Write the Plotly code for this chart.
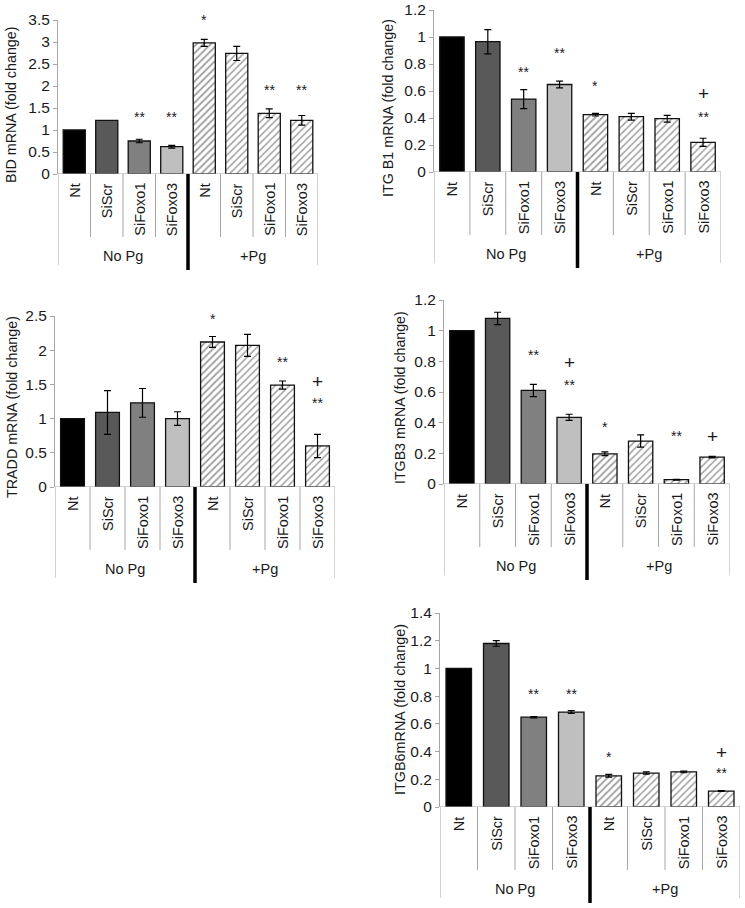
import plotly.graph_objects as go

# ---------------- data ----------------
categories = ["Nt", "SiScr", "SiFoxo1", "SiFoxo3", "Nt", "SiScr", "SiFoxo1", "SiFoxo3"]
groups = ["No Pg", "+Pg"]

bid_values = [1.0, 1.22, 0.75, 0.62, 2.98, 2.74, 1.38, 1.22]
bid_errors = [None, None, 0.04, 0.03, 0.08, 0.16, 0.10, 0.11]
bid_marks = ["", "", "**", "**", "*", "", "**", "**"]
bid_plus = ["", "", "", "", "", "", "", ""]

itgb1_values = [1.0, 0.965, 0.54, 0.648, 0.425, 0.41, 0.395, 0.22]
itgb1_errors = [None, 0.09, 0.07, 0.025, 0.01, 0.025, 0.025, 0.03]
itgb1_marks = ["", "", "**", "**", "*", "", "", "**"]
itgb1_plus = ["", "", "", "", "", "", "", "+"]

tradd_values = [1.0, 1.09, 1.23, 1.0, 2.12, 2.07, 1.49, 0.6]
tradd_errors = [None, 0.32, 0.21, 0.10, 0.08, 0.16, 0.06, 0.17]
tradd_marks = ["", "", "", "", "*", "", "**", "**"]
tradd_plus = ["", "", "", "", "", "", "", "+"]

itgb3_values = [1.0, 1.08, 0.61, 0.435, 0.197, 0.28, 0.028, 0.175]
itgb3_errors = [None, 0.04, 0.04, 0.02, 0.012, 0.04, 0.003, 0.005]
itgb3_marks = ["", "", "**", "**", "*", "", "**", ""]
itgb3_plus = ["", "", "", "+", "", "", "", "+"]

itgb6_values = [1.0, 1.18, 0.648, 0.685, 0.225, 0.245, 0.253, 0.115]
itgb6_errors = [None, 0.02, 0.005, 0.01, 0.01, 0.008, 0.006, 0.003]
itgb6_marks = ["", "", "**", "**", "*", "", "", "**"]
itgb6_plus = ["", "", "", "", "", "", "", "+"]

# heights (data units) of the significance marks
bid_mark_y = [0, 0, 1.30, 1.30, 3.50, 0, 1.91, 1.91]
bid_plus_y = [0] * 8
itgb1_mark_y = [0, 0, 0.74, 0.88, 0.64, 0, 0, 0.41]
itgb1_plus_y = [0, 0, 0, 0, 0, 0, 0, 0.58]
tradd_mark_y = [0, 0, 0, 0, 2.45, 0, 1.83, 1.23]
tradd_plus_y = [0, 0, 0, 0, 0, 0, 0, 1.54]
itgb3_mark_y = [0, 0, 0.84, 0.645, 0.37, 0, 0.31, 0]
itgb3_plus_y = [0, 0, 0, 0.79, 0, 0, 0, 0.31]
itgb6_mark_y = [0, 0, 0.815, 0.815, 0.36, 0, 0, 0.245]
itgb6_plus_y = [0, 0, 0, 0, 0, 0, 0, 0.39]

# ---------------- styles ----------------
W, H = 745, 908
FONT = "Liberation Sans, Arial, sans-serif"
TXT = "#1a1a1a"
GRID = "#a6a6a6"

solid_colors = ["#000000", "#595959", "#808080", "#bfbfbf", "white", "white", "white", "white"]
hatch_shapes = ["", "", "", "", "/", "/", "/", "/"]
hatch_fg = ["#000000", "#000000", "#000000", "#000000", "#111111", "#555555", "#808080", "#b0b0b0"]
hatch_solidity = [0.3, 0.3, 0.3, 0.3, 0.38, 0.3, 0.3, 0.3]

# box = (left, right, top, bottom) of plot area in px; tpos = axis-title centre in px
panels = [
    dict(title="BID mRNA (fold change)", values=bid_values, errors=bid_errors,
         marks=bid_marks, mark_y=bid_mark_y, plus=bid_plus, plus_y=bid_plus_y,
         ymax=3.5, dtick=0.5, box=(58, 318, 20, 174), tpos=(11, 105), tfs=14.3),
    dict(title="ITG B1 mRNA (fold change)", values=itgb1_values, errors=itgb1_errors,
         marks=itgb1_marks, mark_y=itgb1_mark_y, plus=itgb1_plus, plus_y=itgb1_plus_y,
         ymax=1.2, dtick=0.2, box=(434, 721, 10, 172), tpos=(388, 108), tfs=14.3),
    dict(title="TRADD mRNA (fold change)", values=tradd_values, errors=tradd_errors,
         marks=tradd_marks, mark_y=tradd_mark_y, plus=tradd_plus, plus_y=tradd_plus_y,
         ymax=2.5, dtick=0.5, box=(55, 335, 316, 487), tpos=(12, 407), tfs=14.3),
    dict(title="ITGB3 mRNA (fold change)", values=itgb3_values, errors=itgb3_errors,
         marks=itgb3_marks, mark_y=itgb3_mark_y, plus=itgb3_plus, plus_y=itgb3_plus_y,
         ymax=1.2, dtick=0.2, box=(444, 730, 300, 484), tpos=(400, 398), tfs=14.2),
    dict(title="ITGB6mRNA (fold change)", values=itgb6_values, errors=itgb6_errors,
         marks=itgb6_marks, mark_y=itgb6_mark_y, plus=itgb6_plus, plus_y=itgb6_plus_y,
         ymax=1.4, dtick=0.2, box=(440, 740, 613, 807), tpos=(400, 710), tfs=14.4),
]

fig = go.Figure()
annotations = []
shapes = []
layout_axes = {}

positions = list(range(len(categories)))

for k, p in enumerate(panels, start=1):
    xa = "x" if k == 1 else f"x{k}"
    ya = "y" if k == 1 else f"y{k}"
    xkey = "xaxis" if k == 1 else f"xaxis{k}"
    ykey = "yaxis" if k == 1 else f"yaxis{k}"
    l, r, t, b = p["box"]
    ph = b - t

    errs = [e if e is not None else 0 for e in p["errors"]]
    err_vis = [e is not None for e in p["errors"]]
    fig.add_trace(go.Bar(
        x=positions, y=p["values"], xaxis=xa, yaxis=ya, width=0.68,
        marker=dict(color=solid_colors,
                    line=dict(color="#111111", width=1.3),
                    pattern=dict(shape=hatch_shapes, fgcolor=hatch_fg,
                                 bgcolor="white", size=5, solidity=hatch_solidity)),
        showlegend=False, hoverinfo="skip",
    ))
    ex = [i for i, v in zip(positions, err_vis) if v]
    ey = [y for y, v in zip(p["values"], err_vis) if v]
    ee = [e for e, v in zip(errs, err_vis) if v]
    fig.add_trace(go.Scatter(
        x=ex, y=ey, xaxis=xa, yaxis=ya, mode="markers",
        marker=dict(size=0.1, color="rgba(0,0,0,0)"),
        error_y=dict(type="data", array=ee, color="#000000", thickness=1.2, width=3.5),
        showlegend=False, hoverinfo="skip",
    ))

    layout_axes[xkey] = dict(
        domain=[l / W, r / W], range=[-0.5, 7.5], anchor=ya,
        showticklabels=False, showgrid=False, zeroline=False, ticks="",
        showline=False, fixedrange=True,
    )
    layout_axes[ykey] = dict(
        domain=[1 - b / H, 1 - t / H], range=[0, p["ymax"]], dtick=p["dtick"],
        anchor=xa, showgrid=False, zeroline=False, showline=True,
        linecolor=GRID, linewidth=1, ticks="outside", ticklen=4, tickcolor=GRID,
        tickfont=dict(family=FONT, size=15.5, color=TXT),
        fixedrange=True, automargin=False,
    )

    # y-axis title
    tx, ty = p["tpos"]
    annotations.append(dict(x=tx / W, y=1 - ty / H, xref="paper", yref="paper",
                            text=p["title"], textangle=-90, showarrow=False,
                            xanchor="center", yanchor="middle",
                            font=dict(family=FONT, size=p["tfs"], color=TXT)))

    ydom = f"{ya} domain"
    shapes.append(dict(type="line", xref=xa, yref=ya, x0=-0.5, x1=7.5, y0=0, y1=0,
                       line=dict(color=GRID, width=1)))
    for d in [0.5, 1.5, 2.5, 4.5, 5.5, 6.5]:
        shapes.append(dict(type="line", xref=xa, yref=ydom, x0=d, x1=d, y0=0, y1=-63 / ph,
                           line=dict(color=GRID, width=1)))
    for d in [-0.5, 7.5]:
        shapes.append(dict(type="line", xref=xa, yref=ydom, x0=d, x1=d, y0=0, y1=-91 / ph,
                           line=dict(color=GRID, width=1)))
    shapes.append(dict(type="line", xref=xa, yref=ydom, x0=3.5, x1=3.5, y0=0, y1=-96 / ph,
                       line=dict(color="#000000", width=3.5)))

    for i, c in zip(positions, categories):
        annotations.append(dict(x=i, y=-7 / ph, xref=xa, yref=ydom, text=c, textangle=-90,
                                showarrow=False, xanchor="center", yanchor="top",
                                font=dict(family=FONT, size=14.5, color=TXT)))
    for gi, g in enumerate(groups):
        annotations.append(dict(x=1.5 + 4 * gi, y=-82 / ph, xref=xa, yref=ydom, text=g,
                                showarrow=False, xanchor="center", yanchor="middle",
                                font=dict(family=FONT, size=14.5, color=TXT)))
    for i, m, my in zip(positions, p["marks"], p["mark_y"]):
        if m:
            annotations.append(dict(x=i, y=my, xref=xa, yref=ya, text=m, showarrow=False,
                                    xanchor="center", yanchor="middle",
                                    font=dict(family=FONT, size=14, color=TXT)))
    for i, m, my in zip(positions, p["plus"], p["plus_y"]):
        if m:
            annotations.append(dict(x=i, y=my, xref=xa, yref=ya, text=m, showarrow=False,
                                    xanchor="center", yanchor="middle",
                                    font=dict(family=FONT, size=19, color=TXT)))

fig.update_layout(
    width=W, height=H, margin=dict(l=0, r=0, t=0, b=0, autoexpand=False),
    paper_bgcolor="white", plot_bgcolor="white",
    bargap=0.3, showlegend=False,
    annotations=annotations, shapes=shapes,
    **layout_axes,
)

fig.write_html(
    "out.html",
    config={"displayModeBar": False},
    post_script="document.body.style.margin='0';document.body.style.overflow='hidden';",
)
